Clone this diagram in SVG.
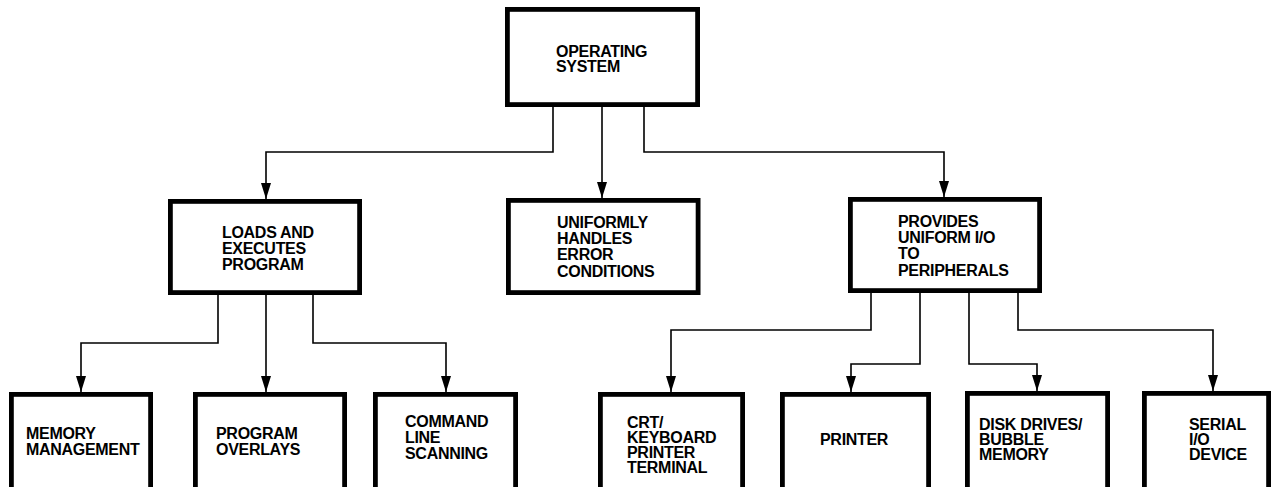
<svg xmlns="http://www.w3.org/2000/svg" width="1280" height="487" viewBox="0 0 1280 487">
<style>
.box{fill:#fff;stroke:#000;stroke-width:4.8}
.lbl{font-family:"Liberation Sans",Arial,sans-serif;font-weight:bold;font-size:16px;letter-spacing:-0.3px;fill:#000}
.con{fill:none;stroke:#000;stroke-width:1.6}
</style>
<defs>
<marker id="arr" viewBox="0 0 16 10" refX="16" refY="5" markerWidth="16" markerHeight="10" markerUnits="userSpaceOnUse" orient="auto">
<path d="M0,0 L16,5 L0,10 z" fill="#000"/>
</marker>
</defs>
<rect width="1280" height="487" fill="#fff"/>
<g id="connectors">
<path class="con" d="M553,107 V152 H266 V199" marker-end="url(#arr)"/>
<path class="con" d="M602,107 V198" marker-end="url(#arr)"/>
<path class="con" d="M644,107 V152 H944 V197" marker-end="url(#arr)"/>
<path class="con" d="M218,295 V343 H81 V392" marker-end="url(#arr)"/>
<path class="con" d="M266,295 V392" marker-end="url(#arr)"/>
<path class="con" d="M313,295 V343 H446 V392" marker-end="url(#arr)"/>
<path class="con" d="M871,293 V330 H671 V392" marker-end="url(#arr)"/>
<path class="con" d="M920,293 V364 H851 V392" marker-end="url(#arr)"/>
<path class="con" d="M969,293 V364 H1037 V391" marker-end="url(#arr)"/>
<path class="con" d="M1018,293 V330 H1213 V391" marker-end="url(#arr)"/>
</g>
<g id="operating-system">
<rect class="box" x="507.4" y="9.4" width="190.2" height="95.2"/>
<text class="lbl" x="556" y="57">OPERATING</text>
<text class="lbl" x="556" y="72">SYSTEM</text>
</g>
<g id="loads-executes">
<rect class="box" x="170.4" y="201.4" width="189.2" height="91.2"/>
<text class="lbl" x="222" y="238">LOADS AND</text>
<text class="lbl" x="222" y="254">EXECUTES</text>
<text class="lbl" x="222" y="270">PROGRAM</text>
</g>
<g id="error-conditions">
<rect class="box" x="508.4" y="200.4" width="189.7" height="92.2"/>
<text class="lbl" x="557" y="228">UNIFORMLY</text>
<text class="lbl" x="557" y="244">HANDLES</text>
<text class="lbl" x="557" y="260">ERROR</text>
<text class="lbl" x="557" y="276.5">CONDITIONS</text>
</g>
<g id="uniform-io">
<rect class="box" x="850.4" y="199.4" width="189.2" height="91.2"/>
<text class="lbl" x="898" y="227">PROVIDES</text>
<text class="lbl" x="898" y="243">UNIFORM I/O</text>
<text class="lbl" x="898" y="259">TO</text>
<text class="lbl" x="898" y="276">PERIPHERALS</text>
</g>
<g id="memory-management">
<rect class="box" x="11.4" y="394.4" width="139.2" height="110"/>
<text class="lbl" x="26" y="439">MEMORY</text>
<text class="lbl" x="26" y="455">MANAGEMENT</text>
</g>
<g id="program-overlays">
<rect class="box" x="195.4" y="394.4" width="149.2" height="110"/>
<text class="lbl" x="216" y="439">PROGRAM</text>
<text class="lbl" x="216" y="455">OVERLAYS</text>
</g>
<g id="command-line">
<rect class="box" x="375.4" y="394.4" width="140.2" height="110"/>
<text class="lbl" x="405" y="427">COMMAND</text>
<text class="lbl" x="405" y="443">LINE</text>
<text class="lbl" x="405" y="459">SCANNING</text>
</g>
<g id="crt-keyboard">
<rect class="box" x="600.4" y="394.4" width="142.2" height="110"/>
<text class="lbl" x="627" y="428">CRT/</text>
<text class="lbl" x="627" y="443">KEYBOARD</text>
<text class="lbl" x="627" y="458">PRINTER</text>
<text class="lbl" x="627" y="473">TERMINAL</text>
</g>
<g id="printer">
<rect class="box" x="782.4" y="394.4" width="146.2" height="110"/>
<text class="lbl" x="820" y="445">PRINTER</text>
</g>
<g id="disk-drives">
<rect class="box" x="967.4" y="393.4" width="140.2" height="110"/>
<text class="lbl" x="979" y="430">DISK DRIVES/</text>
<text class="lbl" x="979" y="445">BUBBLE</text>
<text class="lbl" x="979" y="460">MEMORY</text>
</g>
<g id="serial-io">
<rect class="box" x="1144.4" y="393.4" width="124.2" height="110"/>
<text class="lbl" x="1189" y="430">SERIAL</text>
<text class="lbl" x="1189" y="445">I/O</text>
<text class="lbl" x="1189" y="460">DEVICE</text>
</g>
</svg>
